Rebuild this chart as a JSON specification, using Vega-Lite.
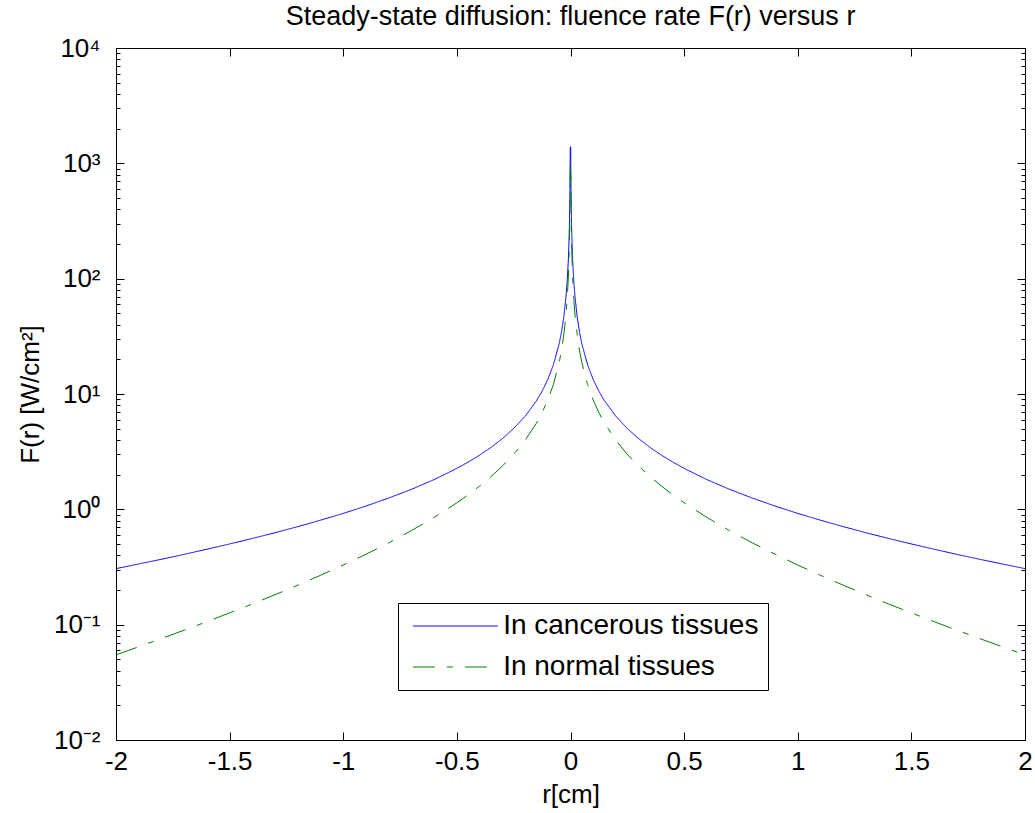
{
  "$schema": "https://vega.github.io/schema/vega-lite/v6.json",
  "width": 909,
  "height": 692,
  "autosize": {"type": "none"},
  "padding": {"left": 116, "top": 48, "right": 10, "bottom": 73},
  "background": "white",
  "title": {"text": "Steady-state diffusion: fluence rate F(r) versus r", "fontSize": 27, "font": "Liberation Sans", "fontWeight": "normal", "color": "black", "anchor": "middle", "offset": 4},
  "data": {"values": [
    {"r": -2.0, "F": 0.306, "s": "In cancerous tissues"},
    {"r": -1.9, "F": 0.336, "s": "In cancerous tissues"},
    {"r": -1.8, "F": 0.369, "s": "In cancerous tissues"},
    {"r": -1.7, "F": 0.407, "s": "In cancerous tissues"},
    {"r": -1.6, "F": 0.451, "s": "In cancerous tissues"},
    {"r": -1.5, "F": 0.501, "s": "In cancerous tissues"},
    {"r": -1.4, "F": 0.559, "s": "In cancerous tissues"},
    {"r": -1.3, "F": 0.627, "s": "In cancerous tissues"},
    {"r": -1.2, "F": 0.708, "s": "In cancerous tissues"},
    {"r": -1.1, "F": 0.805, "s": "In cancerous tissues"},
    {"r": -1.0, "F": 0.922, "s": "In cancerous tissues"},
    {"r": -0.9, "F": 1.068, "s": "In cancerous tissues"},
    {"r": -0.8, "F": 1.252, "s": "In cancerous tissues"},
    {"r": -0.7, "F": 1.490, "s": "In cancerous tissues"},
    {"r": -0.6, "F": 1.811, "s": "In cancerous tissues"},
    {"r": -0.5, "F": 2.265, "s": "In cancerous tissues"},
    {"r": -0.45, "F": 2.57, "s": "In cancerous tissues"},
    {"r": -0.4, "F": 2.95, "s": "In cancerous tissues"},
    {"r": -0.35, "F": 3.44, "s": "In cancerous tissues"},
    {"r": -0.3, "F": 4.10, "s": "In cancerous tissues"},
    {"r": -0.25, "F": 5.02, "s": "In cancerous tissues"},
    {"r": -0.2, "F": 6.40, "s": "In cancerous tissues"},
    {"r": -0.15, "F": 8.71, "s": "In cancerous tissues"},
    {"r": -0.125, "F": 10.56, "s": "In cancerous tissues"},
    {"r": -0.1, "F": 13.34, "s": "In cancerous tissues"},
    {"r": -0.075, "F": 17.97, "s": "In cancerous tissues"},
    {"r": -0.05, "F": 27.2, "s": "In cancerous tissues"},
    {"r": -0.04, "F": 34.2, "s": "In cancerous tissues"},
    {"r": -0.03, "F": 45.8, "s": "In cancerous tissues"},
    {"r": -0.02, "F": 68.9, "s": "In cancerous tissues"},
    {"r": -0.015, "F": 92.1, "s": "In cancerous tissues"},
    {"r": -0.01, "F": 138.4, "s": "In cancerous tissues"},
    {"r": -0.0075, "F": 185, "s": "In cancerous tissues"},
    {"r": -0.005, "F": 277, "s": "In cancerous tissues"},
    {"r": -0.003, "F": 463, "s": "In cancerous tissues"},
    {"r": -0.002, "F": 694, "s": "In cancerous tissues"},
    {"r": -0.001, "F": 1389, "s": "In cancerous tissues"},
    {"r": 0.001, "F": 1389, "s": "In cancerous tissues"},
    {"r": 0.002, "F": 694, "s": "In cancerous tissues"},
    {"r": 0.003, "F": 463, "s": "In cancerous tissues"},
    {"r": 0.005, "F": 277, "s": "In cancerous tissues"},
    {"r": 0.0075, "F": 185, "s": "In cancerous tissues"},
    {"r": 0.01, "F": 138.4, "s": "In cancerous tissues"},
    {"r": 0.015, "F": 92.1, "s": "In cancerous tissues"},
    {"r": 0.02, "F": 68.9, "s": "In cancerous tissues"},
    {"r": 0.03, "F": 45.8, "s": "In cancerous tissues"},
    {"r": 0.04, "F": 34.2, "s": "In cancerous tissues"},
    {"r": 0.05, "F": 27.2, "s": "In cancerous tissues"},
    {"r": 0.075, "F": 17.97, "s": "In cancerous tissues"},
    {"r": 0.1, "F": 13.34, "s": "In cancerous tissues"},
    {"r": 0.125, "F": 10.56, "s": "In cancerous tissues"},
    {"r": 0.15, "F": 8.71, "s": "In cancerous tissues"},
    {"r": 0.2, "F": 6.40, "s": "In cancerous tissues"},
    {"r": 0.25, "F": 5.02, "s": "In cancerous tissues"},
    {"r": 0.3, "F": 4.10, "s": "In cancerous tissues"},
    {"r": 0.35, "F": 3.44, "s": "In cancerous tissues"},
    {"r": 0.4, "F": 2.95, "s": "In cancerous tissues"},
    {"r": 0.45, "F": 2.57, "s": "In cancerous tissues"},
    {"r": 0.5, "F": 2.265, "s": "In cancerous tissues"},
    {"r": 0.6, "F": 1.811, "s": "In cancerous tissues"},
    {"r": 0.7, "F": 1.490, "s": "In cancerous tissues"},
    {"r": 0.8, "F": 1.252, "s": "In cancerous tissues"},
    {"r": 0.9, "F": 1.068, "s": "In cancerous tissues"},
    {"r": 1.0, "F": 0.922, "s": "In cancerous tissues"},
    {"r": 1.1, "F": 0.805, "s": "In cancerous tissues"},
    {"r": 1.2, "F": 0.708, "s": "In cancerous tissues"},
    {"r": 1.3, "F": 0.627, "s": "In cancerous tissues"},
    {"r": 1.4, "F": 0.559, "s": "In cancerous tissues"},
    {"r": 1.5, "F": 0.501, "s": "In cancerous tissues"},
    {"r": 1.6, "F": 0.451, "s": "In cancerous tissues"},
    {"r": 1.7, "F": 0.407, "s": "In cancerous tissues"},
    {"r": 1.8, "F": 0.369, "s": "In cancerous tissues"},
    {"r": 1.9, "F": 0.336, "s": "In cancerous tissues"},
    {"r": 2.0, "F": 0.306, "s": "In cancerous tissues"},
    {"r": -2.0, "F": 0.0547, "s": "In normal tissues"},
    {"r": -1.9, "F": 0.0643, "s": "In normal tissues"},
    {"r": -1.8, "F": 0.0758, "s": "In normal tissues"},
    {"r": -1.7, "F": 0.0896, "s": "In normal tissues"},
    {"r": -1.6, "F": 0.1062, "s": "In normal tissues"},
    {"r": -1.5, "F": 0.1265, "s": "In normal tissues"},
    {"r": -1.4, "F": 0.151, "s": "In normal tissues"},
    {"r": -1.3, "F": 0.182, "s": "In normal tissues"},
    {"r": -1.2, "F": 0.220, "s": "In normal tissues"},
    {"r": -1.1, "F": 0.268, "s": "In normal tissues"},
    {"r": -1.0, "F": 0.329, "s": "In normal tissues"},
    {"r": -0.9, "F": 0.408, "s": "In normal tissues"},
    {"r": -0.8, "F": 0.512, "s": "In normal tissues"},
    {"r": -0.7, "F": 0.654, "s": "In normal tissues"},
    {"r": -0.6, "F": 0.851, "s": "In normal tissues"},
    {"r": -0.5, "F": 1.140, "s": "In normal tissues"},
    {"r": -0.45, "F": 1.338, "s": "In normal tissues"},
    {"r": -0.4, "F": 1.591, "s": "In normal tissues"},
    {"r": -0.35, "F": 1.92, "s": "In normal tissues"},
    {"r": -0.3, "F": 2.37, "s": "In normal tissues"},
    {"r": -0.25, "F": 3.00, "s": "In normal tissues"},
    {"r": -0.2, "F": 3.96, "s": "In normal tissues"},
    {"r": -0.15, "F": 5.58, "s": "In normal tissues"},
    {"r": -0.125, "F": 6.89, "s": "In normal tissues"},
    {"r": -0.1, "F": 8.85, "s": "In normal tissues"},
    {"r": -0.075, "F": 12.13, "s": "In normal tissues"},
    {"r": -0.05, "F": 18.70, "s": "In normal tissues"},
    {"r": -0.04, "F": 23.6, "s": "In normal tissues"},
    {"r": -0.03, "F": 31.9, "s": "In normal tissues"},
    {"r": -0.02, "F": 48.3, "s": "In normal tissues"},
    {"r": -0.015, "F": 64.8, "s": "In normal tissues"},
    {"r": -0.01, "F": 97.7, "s": "In normal tissues"},
    {"r": -0.0075, "F": 130.6, "s": "In normal tissues"},
    {"r": -0.005, "F": 196.5, "s": "In normal tissues"},
    {"r": -0.003, "F": 328, "s": "In normal tissues"},
    {"r": -0.002, "F": 493, "s": "In normal tissues"},
    {"r": -0.001, "F": 987, "s": "In normal tissues"},
    {"r": 0.001, "F": 987, "s": "In normal tissues"},
    {"r": 0.002, "F": 493, "s": "In normal tissues"},
    {"r": 0.003, "F": 328, "s": "In normal tissues"},
    {"r": 0.005, "F": 196.5, "s": "In normal tissues"},
    {"r": 0.0075, "F": 130.6, "s": "In normal tissues"},
    {"r": 0.01, "F": 97.7, "s": "In normal tissues"},
    {"r": 0.015, "F": 64.8, "s": "In normal tissues"},
    {"r": 0.02, "F": 48.3, "s": "In normal tissues"},
    {"r": 0.03, "F": 31.9, "s": "In normal tissues"},
    {"r": 0.04, "F": 23.6, "s": "In normal tissues"},
    {"r": 0.05, "F": 18.70, "s": "In normal tissues"},
    {"r": 0.075, "F": 12.13, "s": "In normal tissues"},
    {"r": 0.1, "F": 8.85, "s": "In normal tissues"},
    {"r": 0.125, "F": 6.89, "s": "In normal tissues"},
    {"r": 0.15, "F": 5.58, "s": "In normal tissues"},
    {"r": 0.2, "F": 3.96, "s": "In normal tissues"},
    {"r": 0.25, "F": 3.00, "s": "In normal tissues"},
    {"r": 0.3, "F": 2.37, "s": "In normal tissues"},
    {"r": 0.35, "F": 1.92, "s": "In normal tissues"},
    {"r": 0.4, "F": 1.591, "s": "In normal tissues"},
    {"r": 0.45, "F": 1.338, "s": "In normal tissues"},
    {"r": 0.5, "F": 1.140, "s": "In normal tissues"},
    {"r": 0.6, "F": 0.851, "s": "In normal tissues"},
    {"r": 0.7, "F": 0.654, "s": "In normal tissues"},
    {"r": 0.8, "F": 0.512, "s": "In normal tissues"},
    {"r": 0.9, "F": 0.408, "s": "In normal tissues"},
    {"r": 1.0, "F": 0.329, "s": "In normal tissues"},
    {"r": 1.1, "F": 0.268, "s": "In normal tissues"},
    {"r": 1.2, "F": 0.220, "s": "In normal tissues"},
    {"r": 1.3, "F": 0.182, "s": "In normal tissues"},
    {"r": 1.4, "F": 0.151, "s": "In normal tissues"},
    {"r": 1.5, "F": 0.1265, "s": "In normal tissues"},
    {"r": 1.6, "F": 0.1062, "s": "In normal tissues"},
    {"r": 1.7, "F": 0.0896, "s": "In normal tissues"},
    {"r": 1.8, "F": 0.0758, "s": "In normal tissues"},
    {"r": 1.9, "F": 0.0643, "s": "In normal tissues"},
    {"r": 2.0, "F": 0.0547, "s": "In normal tissues"}
  ]},
  "layer": [
    {
      "mark": {"type": "line", "strokeWidth": 1, "clip": true},
      "encoding": {
        "x": {"field": "r", "type": "quantitative",
          "scale": {"domain": [-2, 2], "nice": false, "zero": false},
          "axis": {"orient": "bottom", "values": [-2, -1.5, -1, -0.5, 0, 0.5, 1, 1.5, 2],
            "labelExpr": "'' + datum.value", "tickSize": -8, "labelPadding": 16,
            "title": "r[cm]", "titleY": 54, "titleBaseline": "middle"}},
        "y": {"field": "F", "type": "quantitative",
          "scale": {"type": "log", "domain": [0.01, 10000], "nice": false},
          "axis": {"orient": "left",
            "values": [0.01,0.02,0.03,0.04,0.05,0.06,0.07,0.08,0.09,0.1,0.2,0.3,0.4,0.5,0.6,0.7,0.8,0.9,1,2,3,4,5,6,7,8,9,10,20,30,40,50,60,70,80,90,100,200,300,400,500,600,700,800,900,1000,2000,3000,4000,5000,6000,7000,8000,9000,10000],
            "labelExpr": "abs(log(datum.value)/LN10 - round(log(datum.value)/LN10)) < 0.001 ? ['10⁻²','10⁻¹','10⁰','10¹','10²','10³','10⁴'][round(log(datum.value)/LN10) + 2] : ''",
            "tickSize": {"condition": {"test": "abs(log(datum.value)/LN10 - round(log(datum.value)/LN10)) < 0.001", "value": -8}, "value": -4},
            "labelPadding": 24,
            "labelBaseline": "middle",
            "title": "F(r) [W/cm²]", "titleX": -86, "titleBaseline": "middle", "titleAngle": -90, "titleAlign": "center"}},
        "color": {"field": "s", "type": "nominal",
          "scale": {"domain": ["In cancerous tissues", "In normal tissues"], "range": ["#0000ff", "#008000"]},
          "legend": {"orient": "none", "legendX": 282, "legendY": 555, "title": null}},
        "strokeDash": {"field": "s", "type": "nominal",
          "scale": {"domain": ["In cancerous tissues", "In normal tissues"], "range": [[1, 0], [22, 12, 6, 12]]},
          "legend": {"orient": "none", "legendX": 282, "legendY": 555, "title": null}}
      }
    },
    {
      "mark": {"type": "point", "opacity": 0},
      "encoding": {
        "x": {"field": "r", "type": "quantitative",
          "scale": {"domain": [-2, 2], "nice": false, "zero": false},
          "axis": {"orient": "top", "values": [-2, -1.5, -1, -0.5, 0, 0.5, 1, 1.5, 2], "labels": false, "tickSize": -8, "title": null}},
        "y": {"field": "F", "type": "quantitative",
          "scale": {"type": "log", "domain": [0.01, 10000], "nice": false},
          "axis": {"orient": "right",
            "values": [0.01,0.02,0.03,0.04,0.05,0.06,0.07,0.08,0.09,0.1,0.2,0.3,0.4,0.5,0.6,0.7,0.8,0.9,1,2,3,4,5,6,7,8,9,10,20,30,40,50,60,70,80,90,100,200,300,400,500,600,700,800,900,1000,2000,3000,4000,5000,6000,7000,8000,9000,10000],
            "labels": false,
            "tickSize": {"condition": {"test": "abs(log(datum.value)/LN10 - round(log(datum.value)/LN10)) < 0.001", "value": -8}, "value": -4},
            "title": null}}
      }
    }
  ],
  "resolve": {"axis": {"x": "independent", "y": "independent"}},
  "config": {
    "view": {"stroke": "black", "strokeWidth": 1},
    "axis": {"grid": false, "domainColor": "black", "domainWidth": 1, "tickColor": "black", "tickWidth": 1,
      "labelFont": "Liberation Sans", "labelFontSize": 26, "labelColor": "black",
      "titleFont": "Liberation Sans", "titleFontSize": 26, "titleFontWeight": "normal", "titleColor": "black",
      "labelFlush": false, "labelOverlap": false, "labelBound": false},
    "legend": {"symbolType": "M-4,0H4", "symbolSize": 451.6, "symbolStrokeWidth": 1,
      "symbolOffset": 34.4, "labelOffset": 33.75, "labelFont": "Liberation Sans", "labelFontSize": 28, "labelColor": "black",
      "strokeColor": "black", "fillColor": "white", "padding": 9, "rowPadding": 13, "labelLimit": 400}
  }
}
